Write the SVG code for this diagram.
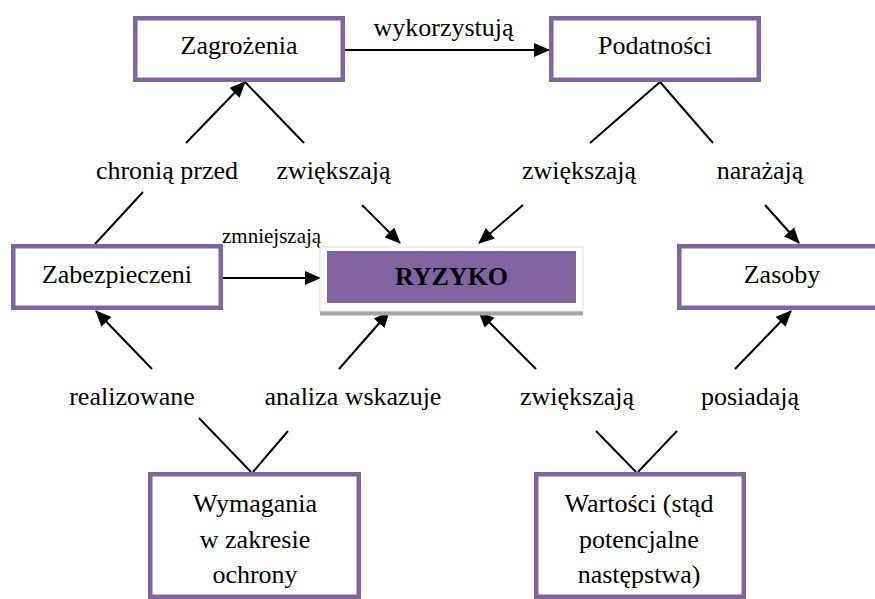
<svg xmlns="http://www.w3.org/2000/svg" width="875" height="599" viewBox="0 0 875 599" font-family="Liberation Serif, DejaVu Serif, Noto Serif, serif">
<style>
.box{fill:#fff;stroke:#8064A2;stroke-width:4.5}
.t{font-size:26px;fill:#000;text-anchor:middle}
.s{font-size:21px;fill:#000}
.c{stroke:#000;stroke-width:2;fill:none}
.a{marker-end:url(#arr)}
</style>
<defs>
<marker id="arr" markerUnits="userSpaceOnUse" markerWidth="16" markerHeight="14" refX="15" refY="7" orient="auto">
<path d="M0,0 L16,7 L0,14 z" fill="#000"/>
</marker>
</defs>
<rect width="875" height="599" fill="#fff"/>
<g id="connectors">
<line class="c a" x1="345" y1="50" x2="549" y2="50"/>
<text class="t" x="443.5" y="36">wykorzystują</text>
<line class="c" x1="95" y1="244" x2="143" y2="192"/>
<line class="c a" x1="186" y1="143" x2="245" y2="82"/>
<text class="t" x="167" y="179">chronią przed</text>
<line class="c" x1="245" y1="82" x2="304" y2="143"/>
<line class="c a" x1="362" y1="205" x2="400" y2="243"/>
<text class="t" x="333.5" y="179">zwiększają</text>
<line class="c" x1="660" y1="82" x2="590" y2="143"/>
<line class="c a" x1="523" y1="205" x2="479" y2="243"/>
<text class="t" x="579" y="179">zwiększają</text>
<line class="c" x1="660" y1="82" x2="713" y2="143"/>
<line class="c a" x1="765" y1="205" x2="799" y2="243"/>
<text class="t" x="760" y="179">narażają</text>
<line class="c a" x1="223" y1="278" x2="320" y2="278"/>
<text class="s" x="222" y="243">zmniejszają</text>
<line class="c" x1="251" y1="472" x2="199" y2="418"/>
<line class="c a" x1="152" y1="369" x2="96" y2="311"/>
<text class="t" x="132" y="405">realizowane</text>
<line class="c" x1="253" y1="472" x2="288" y2="431"/>
<line class="c a" x1="339" y1="369" x2="389" y2="312"/>
<text class="t" x="353" y="405">analiza wskazuje</text>
<line class="c" x1="636" y1="472" x2="596" y2="431"/>
<line class="c a" x1="536" y1="369" x2="479" y2="312"/>
<text class="t" x="577" y="405">zwiększają</text>
<line class="c" x1="638" y1="472" x2="677" y2="431"/>
<line class="c a" x1="735" y1="369" x2="791" y2="311"/>
<text class="t" x="750" y="405">posiadają</text>
</g>
<g id="zagrozenia">
<rect class="box" x="135.25" y="18.25" width="207.5" height="61.5"/>
<text class="t" x="239" y="54">Zagrożenia</text>
</g>
<g id="podatnosci">
<rect class="box" x="551.25" y="18.25" width="207.5" height="61.5"/>
<text class="t" x="655" y="54">Podatności</text>
</g>
<g id="zabezpieczeni">
<rect class="box" x="13.25" y="246.25" width="207.5" height="61.5"/>
<text class="t" x="117" y="283">Zabezpieczeni</text>
</g>
<g id="zasoby">
<rect class="box" x="679.25" y="246.25" width="207.5" height="61.5"/>
<text class="t" x="782" y="283">Zasoby</text>
</g>
<g id="ryzyko">
<rect x="320" y="311" width="263" height="4.5" fill="#A6A6A6"/>
<rect x="320" y="247" width="263" height="64" fill="#fff" stroke="#E2E2E2" stroke-width="1"/>
<rect x="327" y="251" width="249" height="52" fill="#8064A2"/>
<text class="t" x="451.5" y="285" font-weight="bold">RYZYKO</text>
</g>
<g id="wymagania">
<rect class="box" x="150.25" y="474.25" width="208.5" height="122.5"/>
<text class="t" x="255" y="512">Wymagania</text>
<text class="t" x="255" y="548">w zakresie</text>
<text class="t" x="255" y="583">ochrony</text>
</g>
<g id="wartosci">
<rect class="box" x="536.25" y="474.25" width="207.5" height="122.5"/>
<text class="t" x="639" y="512">Wartości (stąd</text>
<text class="t" x="639" y="548">potencjalne</text>
<text class="t" x="639" y="583">następstwa)</text>
</g>
</svg>
